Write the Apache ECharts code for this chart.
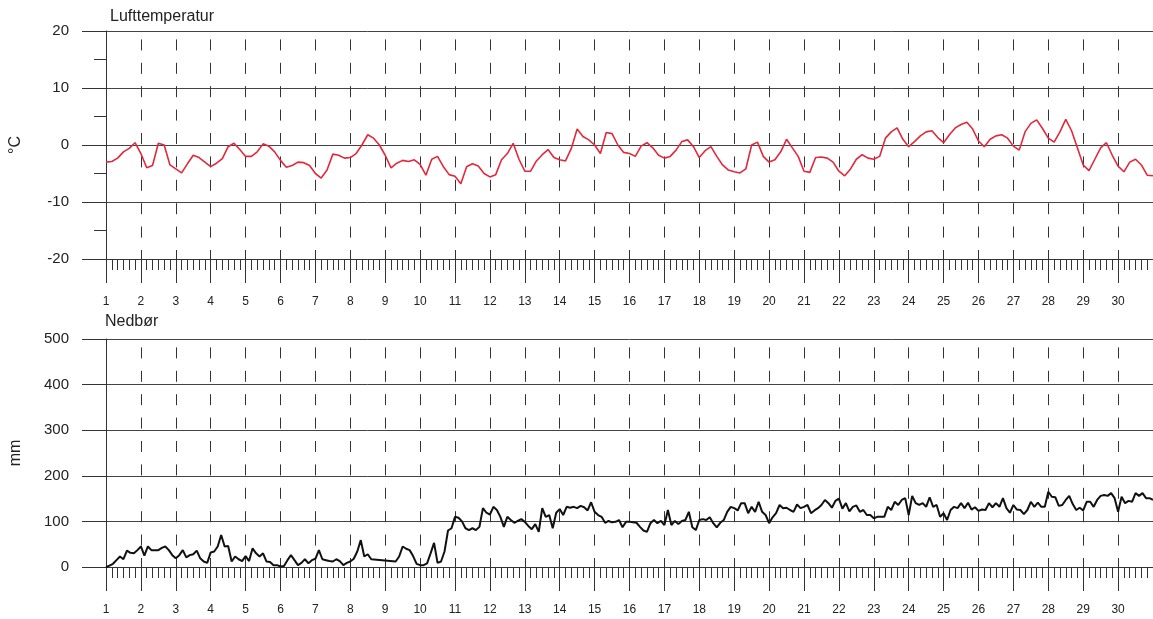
<!DOCTYPE html>
<html>
<head>
<meta charset="utf-8">
<script src="https://cdn.jsdelivr.net/npm/echarts@6/dist/echarts.min.js"></script>
<style>
html,body{margin:0;padding:0;background:#fff;}
#chart{width:1153px;height:619px;}
</style>
</head>
<body>
<div id="chart"></div>
<script>
// ---- data ----
const firstDay = 1;
const lastDay = 31;
const tempTitle = 'Lufttemperatur';
const precTitle = 'Nedbør';
const tempUnit = '°C';
const precUnit = 'mm';
const tempStepsPerDay = 6;   // one value every 4 hours
const precStepsPerDay = 10;  // one value every 2.4 hours

// Air temperature (°C), day 1 00h .. day 31 00h
const temperature = [
  -3.0, -2.9, -2.3, -1.2, -0.6, 0.4,
  -1.5, -4.0, -3.6, 0.3, 0.0, -3.5,
  -4.2, -4.9, -3.3, -1.8, -2.2, -3.0,
  -3.8, -3.2, -2.4, -0.3, 0.3, -0.8,
  -2.0, -2.0, -1.2, 0.2, -0.2, -1.2,
  -2.7, -3.9, -3.6, -3.0, -3.1, -3.6,
  -5.0, -5.8, -4.4, -1.6, -1.8, -2.3,
  -2.2, -1.5, 0.0, 1.8, 1.2, 0.0,
  -1.8, -4.0, -3.2, -2.7, -2.9, -2.6,
  -3.4, -5.3, -2.5, -2.0, -3.8, -5.2,
  -5.5, -6.8, -3.8, -3.3, -3.7, -5.0,
  -5.6, -5.2, -2.6, -1.5, 0.3, -2.5,
  -4.6, -4.6, -2.8, -1.7, -0.8, -2.2,
  -2.6, -2.8, -0.6, 2.8, 1.5, 0.9,
  0.0, -1.5, 2.2, 2.0, 0.0, -1.3,
  -1.5, -2.0, -0.2, 0.4, -0.5, -1.8,
  -2.3, -2.0, -0.9, 0.6, 0.9, -0.3,
  -2.2, -1.0, -0.3, -2.0, -3.5, -4.4,
  -4.7, -4.9, -4.2, 0.0, 0.5, -2.0,
  -3.0, -2.6, -1.2, 1.0, -0.5, -2.0,
  -4.6, -4.8, -2.2, -2.1, -2.3, -3.0,
  -4.6, -5.4, -4.2, -2.5, -1.7, -2.3,
  -2.5, -2.0, 1.2, 2.3, 3.0, 1.0,
  -0.3, 0.6, 1.6, 2.3, 2.5, 1.3,
  0.4, 1.8, 3.0, 3.6, 4.0, 2.8,
  0.7, -0.3, 1.0, 1.6, 1.8, 1.2,
  -0.2, -0.9, 2.3, 3.8, 4.4, 2.9,
  1.2, 0.5, 2.3, 4.5, 2.5, -0.5,
  -3.5, -4.5, -2.5, -0.5, 0.4, -1.8,
  -3.7, -4.7, -3.0, -2.5, -3.5, -5.3,
  -5.4
];

// Precipitation (mm), day 1 .. day 31; null = missing (line is drawn straight across)
const precipitation = [
  0, 3, 7, 15, 23, 17, 36, 31, 30, 37,
  45, 25, 45, 37, 37, 37, 42, 45, 37, 26,
  19, 26, 37, 21, 26, 28, 36, 19, 12, 9,
  32, 34, 45, 70, 45, 46, 12, 23, 17, 13,
  24, 13, 41, 30, 23, 30, 12, 11, 4, 4,
  1, 2, 15, 26, 15, 4, 9, 17, 8, 15,
  18, 37, 17, 15, 13, 12, 17, 13, 4, 9,
  12, 18, 34, 59, 23, 28, 17, null, null, null,
  null, null, null, 12, 23, 45, 40, 37, 24, 7,
  4, 4, 8, 30, 53, 9, 12, 34, 80, 85,
  110, 108, 100, 85, 81, 85, 81, 88, 129, 119,
  115, 132, 125, 110, 88, 110, 103, 97, 101, 105,
  99, 90, 83, 94, 77, 129, 110, 114, 85, 119,
  127, 114, 132, 130, 132, 129, 134, 131, 124, 142,
  121, 114, 110, 97, 101, 98, 99, 103, 87, 99,
  99, 98, 97, 88, 80, 77, 96, 103, 96, 101,
  92, 125, 92, 101, 94, 101, 103, 121, 87, 81,
  103, 105, 103, 109, 96, 87, 97, 103, 121, 132,
  129, 124, 140, 140, 118, 132, 121, 143, 121, 114,
  96, 109, 118, 136, 129, 130, 125, 121, 137, 129,
  132, 136, 118, 124, 129, 136, 147, 140, 130, 145,
  150, 128, 140, 122, 132, 135, 121, 125, 114, 114,
  107, 110, 110, 110, 132, 125, 143, 136, 147, 151,
  114, 156, 140, 136, 140, 132, 153, 132, 136, 110,
  118, 103, 125, 132, 129, 140, 129, 141, 126, 131,
  123, 126, 125, 140, 131, 140, 132, 151, 129, 119,
  136, 126, 125, 116, 125, 143, 132, 141, 132, 132,
  165, 154, 153, 134, 136, 147, 156, 138, 125, 130,
  124, 143, 143, 132, 147, 156, 158, 156, 162, 151,
  121, 154, 140, 145, 143, 162, 156, 162, 151, 151,
  147
];

const tempTicks = { min: -20, max: 20, step: 10 };
const precTicks = { min: 0, max: 500, step: 100 };

// ---- chart ----
const FONT = '"Liberation Sans", Arial, Helvetica, sans-serif';
const AX = '#333';
const tempData = temperature.map((v, i) => [firstDay + i / tempStepsPerDay, v]);
const precData = precipitation.map((v, i) => [firstDay + i / precStepsPerDay, v]);

function xAxis(gi) {
  return {
    type: 'value', gridIndex: gi, min: firstDay, max: lastDay, interval: 1,
    axisLine: { show: true, onZero: false, lineStyle: { color: AX, width: 1 } },
    axisTick: { show: true, length: 24, lineStyle: { color: AX, width: 1 } },
    minorTick: { show: true, splitNumber: 6, length: 11, lineStyle: { color: AX, width: 1 } },
    minorSplitLine: { show: false },
    axisLabel: { margin: 37, fontSize: 12, color: '#222', fontFamily: FONT, showMaxLabel: false, showMinLabel: true },
    splitLine: { show: true, lineStyle: { color: '#333', width: 1, type: [11, 12.4], dashOffset: 15 } }
  };
}
function yAxis(gi, t, name, minor) {
  return {
    type: 'value', gridIndex: gi, min: t.min, max: t.max, interval: t.step,
    name: name, nameLocation: 'middle', nameRotate: 90, nameGap: 82,
    nameTextStyle: { fontSize: 16, color: '#222', fontFamily: FONT },
    axisLine: { show: true, onZero: false, lineStyle: { color: AX, width: 1 } },
    axisTick: { show: true, length: 24, lineStyle: { color: AX, width: 1 } },
    minorTick: { show: minor, splitNumber: 2, length: 12, lineStyle: { color: AX, width: 1 } },
    axisLabel: { margin: 37, fontSize: 15, color: '#222', fontFamily: FONT },
    splitLine: { show: true, lineStyle: { color: '#444', width: 1 } }
  };
}

const chart = echarts.init(document.getElementById('chart'), null, { renderer: 'canvas' });
chart.setOption({
  animation: false,
  backgroundColor: '#fff',
  textStyle: { fontFamily: FONT },
  title: [
    { text: tempTitle, left: 110, top: 9, padding: 0, textStyle: { fontSize: 16, fontWeight: 'normal', color: '#222', fontFamily: FONT } },
    { text: precTitle, left: 105, top: 314, padding: 0, textStyle: { fontSize: 16, fontWeight: 'normal', color: '#222', fontFamily: FONT } }
  ],
  grid: [
    { left: 105, right: 0, top: 31, height: 228, containLabel: false },
    { left: 105, right: 0, top: 339, height: 228, containLabel: false }
  ],
  xAxis: [xAxis(0), xAxis(1)],
  yAxis: [yAxis(0, tempTicks, tempUnit, true), yAxis(1, precTicks, precUnit, false)],
  series: [
    { type: 'line', xAxisIndex: 0, yAxisIndex: 0, data: tempData, showSymbol: false, symbol: 'none',
      lineStyle: { color: '#e3283c', width: 1.6 }, z: 5 },
    { type: 'line', xAxisIndex: 1, yAxisIndex: 1, data: precData, showSymbol: false, symbol: 'none',
      connectNulls: true, lineStyle: { color: '#111', width: 2 }, z: 5 }
  ]
});
</script>
</body>
</html>
